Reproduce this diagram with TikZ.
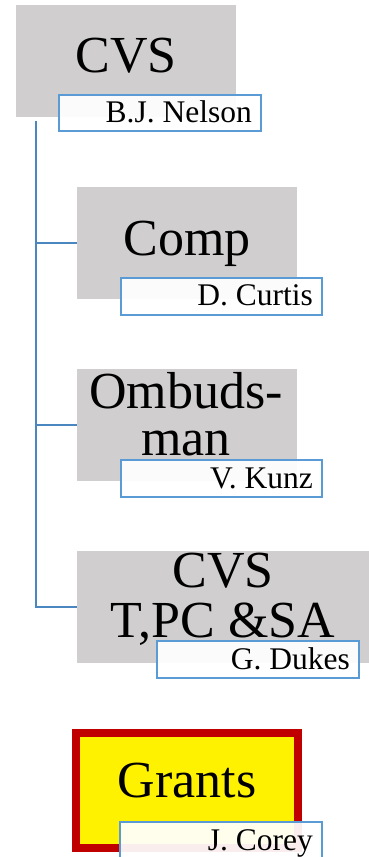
\documentclass[tikz,border=0pt]{standalone}
\usepackage{fontspec}
\setmainfont{Liberation Serif}
\definecolor{boxgray}{HTML}{D0CECE}
\definecolor{nameblue}{HTML}{5B9BD5}
\definecolor{lineblue}{HTML}{4A86C0}
\definecolor{grantred}{HTML}{C00000}
\begin{document}
\begin{tikzpicture}[x=1pt,y=-1pt,
  graybox/.style={fill=boxgray, draw=none, anchor=north west, inner sep=0pt},
  namebox/.style={fill=white, fill opacity=0.93, draw=nameblue, draw opacity=1, line width=2.3pt, anchor=north west, inner sep=0pt},
  bigtext/.style={font=\fontsize{52}{50}\selectfont, anchor=base, inner sep=0pt},
  nametext/.style={font=\fontsize{31.5}{31.5}\selectfont, anchor=base east, inner sep=0pt},
  conn/.style={draw=lineblue, line width=2pt}]
\useasboundingbox (0,0) rectangle (369,857);
% boxes
\node[graybox, minimum width=220pt, minimum height=112pt] (cvs) at (16,5) {};
\node[graybox, minimum width=220pt, minimum height=112pt] (comp) at (77,187) {};
\node[graybox, minimum width=220pt, minimum height=112pt] (omb) at (77,369) {};
\node[graybox, minimum width=292pt, minimum height=112pt] (tpc) at (77,551) {};
\node[fill=yellow, draw=grantred, line width=8pt, minimum width=222pt, minimum height=115pt, inner sep=0pt] (grants) at (187,790.5) {};
% titles
\node[bigtext] (tcvs) at (126,72) {CVS};
\node[bigtext] (tcomp) at (187,255) {Comp};
\node[bigtext] (tomb1) at (186,408) {Ombuds-};
\node[bigtext] (tomb2) at (186,455) {man};
\node[bigtext] (ttpc1) at (223,587) {CVS};
\node[bigtext] (ttpc2) at (223,637) {T,PC \&SA};
\node[bigtext] (tgrants) at (187,797) {Grants};
% name boxes
\node[namebox, minimum width=202pt, minimum height=36pt] (nelson) at (58,94) {};
\node[namebox, minimum width=201pt, minimum height=37pt] (curtis) at (120,277) {};
\node[namebox, minimum width=201pt, minimum height=37pt] (kunz) at (120,459) {};
\node[namebox, minimum width=202pt, minimum height=37pt] (dukes) at (156,640) {};
\node[namebox, minimum width=202pt, minimum height=37pt] (corey) at (119,821) {};
\node[nametext] (nnelson) at (252,122) {B.J. Nelson};
\node[nametext] (ncurtis) at (313,305) {D. Curtis};
\node[nametext] (nkunz) at (313,488) {V. Kunz};
\node[nametext] (ndukes) at (350,669) {G. Dukes};
\node[nametext] (ncorey) at (313,850) {J. Corey};
% connectors
\coordinate (trunk) at (36,121);
\draw[conn] (trunk) |- (tpc.west);
\draw[conn] (trunk |- comp.west) -- (comp.west);
\draw[conn] (trunk |- omb.west) -- (omb.west);
\end{tikzpicture}
\end{document}
